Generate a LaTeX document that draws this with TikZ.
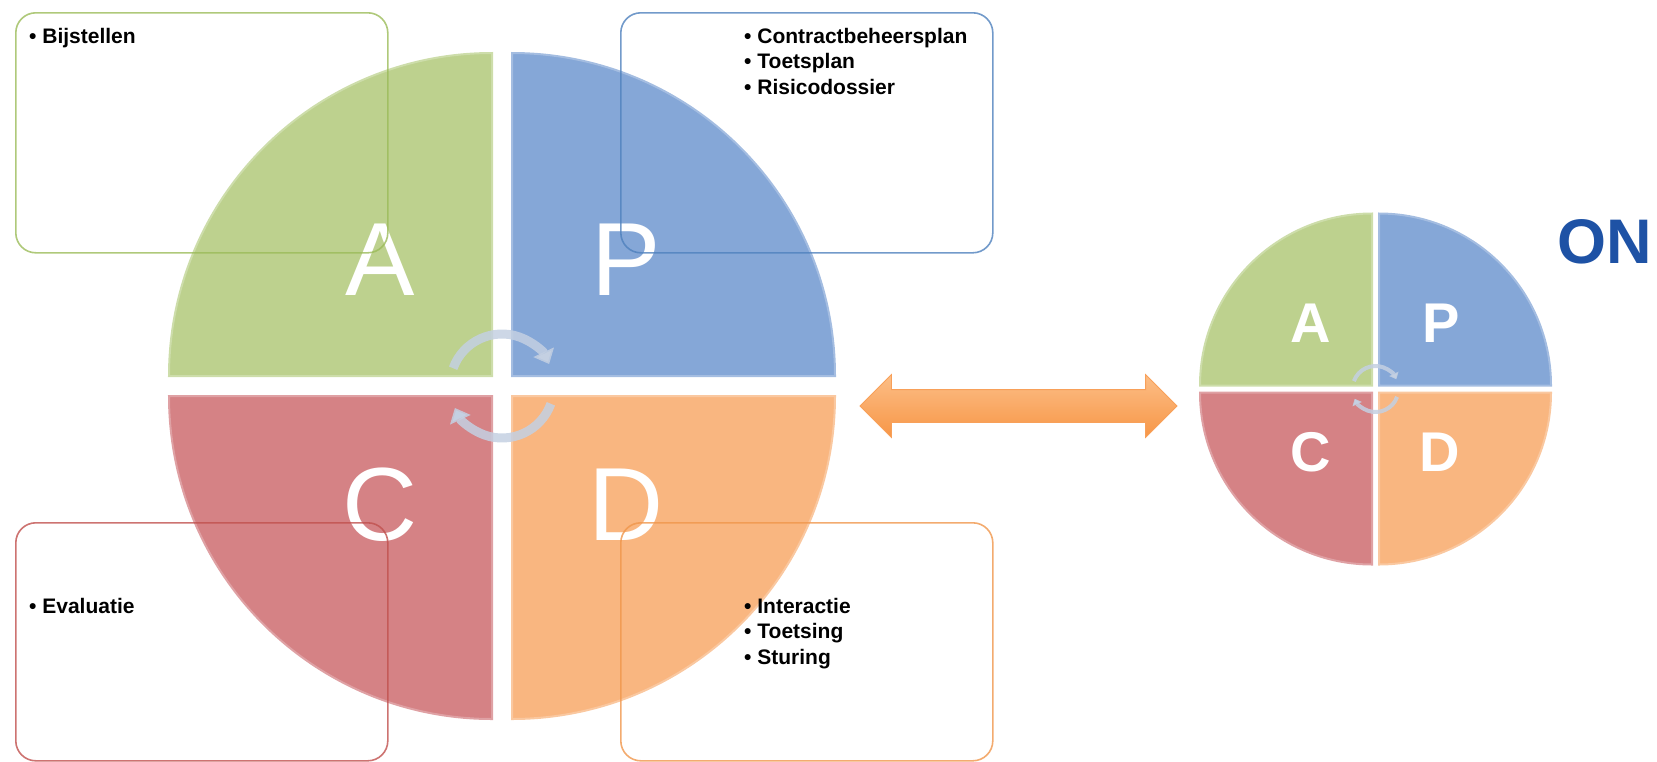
\documentclass[tikz,border=0pt]{standalone}
\usepackage{fontspec}
\setmainfont{Liberation Sans}
\usepackage{xcolor}
\usetikzlibrary{positioning, shapes.arrows, arrows.meta}

\definecolor{actgreen}{RGB}{189,209,142}
\definecolor{planblue}{RGB}{133,167,215}
\definecolor{checkred}{RGB}{213,130,133}
\definecolor{dogold}{RGB}{249,182,128}
\definecolor{actline}{RGB}{155,187,89}
\definecolor{planline}{RGB}{79,129,189}
\definecolor{checkline}{RGB}{192,80,77}
\definecolor{doline}{RGB}{240,150,75}
\definecolor{turngray}{RGB}{196,208,226}
\definecolor{linktop}{RGB}{252,190,135}
\definecolor{linkbot}{RGB}{247,150,70}
\definecolor{onblue}{RGB}{30,82,165}

\begin{document}
\begin{tikzpicture}[
        x=1pt, y=-1pt,
        box/.style={rounded corners=20pt, line width=1.6pt, draw opacity=0.8, minimum width=372pt, anchor=north west, inner sep=0pt},
        items/.style={font=\fontsize{21}{25.5}\selectfont\bfseries, align=left, inner sep=0pt, anchor=north west},
        bigletter/.style={text=white, font=\fontsize{104}{104}\selectfont, inner sep=0pt},
        smallletter/.style={text=white, font=\fontsize{56}{56}\selectfont\bfseries, inner sep=0pt},
        turn/.style={draw=turngray, draw opacity=0.85, line width=#1},
    ]
    \useasboundingbox (0,0) rectangle (1657,761);

    % Centres of the two circles
    \coordinate (bigc) at (502,386);
    \coordinate (smallc) at (1375.5,389);

    % Quadrants
    \foreach \cx/\cy/\r/\g in {502/386/323/10, 1375.5/389/172/3.5}{
        \foreach \col/\sx/\sy/\a in {actgreen/-1/-1/180, planblue/1/-1/270, dogold/1/1/0, checkred/-1/1/90}{
            \filldraw[fill=\col, draw=\col!75!white, line width=2pt]
                (\cx+\sx*\g,\cy+\sy*\g) -- ++(\a:\r) arc[start angle=\a, delta angle=90, radius=\r] -- cycle;
        }
    }

    % Letters
    \node[bigletter] (abig) at (380,259.5) {A};
    \node[bigletter] (pbig) at (626,259.5) {P};
    \node[bigletter] (cbig) at (380,504.5) {C};
    \node[bigletter] (dbig) at (626,504.5) {D};

    \node[smallletter] (asmall) at (1311,323) {A};
    \node[smallletter] (psmall) at (1441,323) {P};
    \node[smallletter] (csmall) at (1311,452) {C};
    \node[smallletter] (dsmall) at (1440,452) {D};

    % Turning arrows
    \draw[turn=9pt, -{Triangle[length=13pt, width=22pt]}] (bigc) ++(200:52) arc[start angle=200, end angle=335, radius=52];
    \draw[turn=9pt, -{Triangle[length=13pt, width=22pt]}] (bigc) ++(20:52) arc[start angle=20, end angle=155, radius=52];
    \draw[turn=4pt, -{Triangle[length=6pt, width=10pt]}] (smallc) ++(200:23) arc[start angle=200, end angle=335, radius=23];
    \draw[turn=4pt, -{Triangle[length=6pt, width=10pt]}] (smallc) ++(20:23) arc[start angle=20, end angle=155, radius=23];

    % Boxes
    \node[box, draw=actline, minimum height=240pt] (abox) at (15,12) {};
    \node[box, draw=planline, minimum height=240pt] (pbox) at (620,12) {};
    \node[box, draw=checkline, minimum height=238pt] (cbox) at (15,522) {};
    \node[box, draw=doline, minimum height=238pt] (dbox) at (620,522) {};

    \node[items, below right=16pt and 14pt of abox.north west] (alist) {• Bijstellen};
    \node[items, below right=16pt and 124pt of pbox.north west] (plist) {• Contractbeheersplan\\• Toetsplan\\• Risicodossier};
    \node[items, below right=76pt and 14pt of cbox.north west] (clist) {• Evaluatie};
    \node[items, below right=76pt and 124pt of dbox.north west] (dlist) {• Interactie\\• Toetsing\\• Sturing};

    % Link between the circles
    \node[double arrow, double arrow head extend=15pt, minimum height=317pt, inner xsep=0pt, inner ysep=16pt,
          top color=linktop, bottom color=linkbot, draw=linkbot!90!white, line width=0.8pt] (link) at (1018.5,406) {};

    \node[text=onblue, font=\fontsize{63}{63}\selectfont\bfseries, inner sep=0pt] (on) at (1605,241.5) {ON};

\end{tikzpicture}
\end{document}
